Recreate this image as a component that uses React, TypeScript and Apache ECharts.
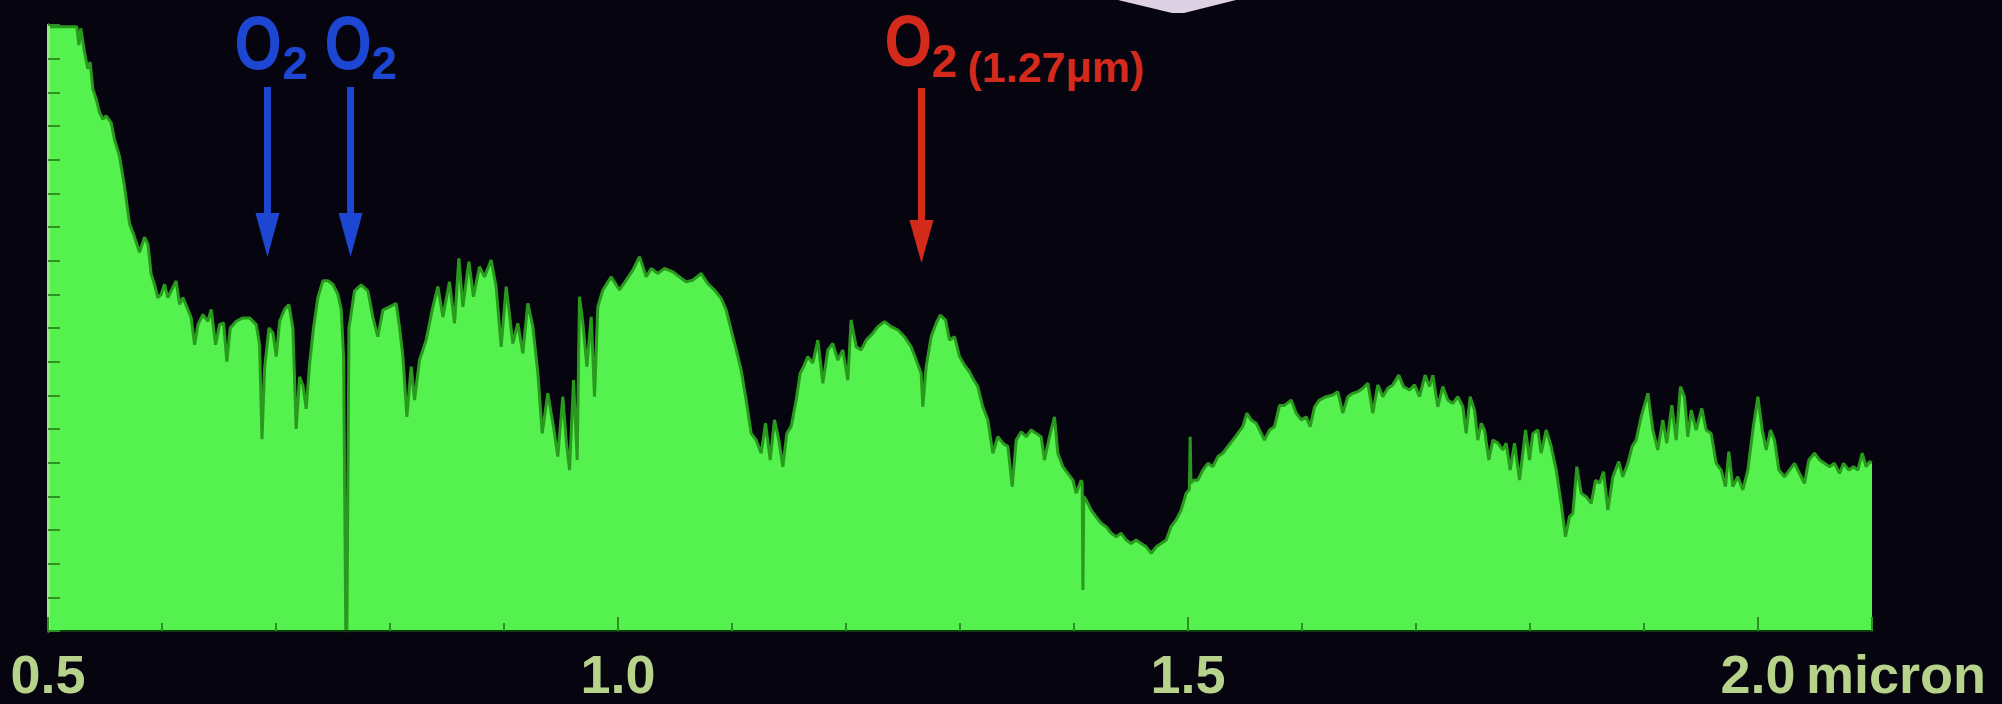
import React, { useEffect, useRef } from "react";
import * as echarts from "echarts";

// Wavelength (micron) and relative flux
const WAVELENGTH = [
  0.5, 0.5101, 0.5218, 0.5253, 0.5271, 0.5288, 0.532, 0.5349, 0.537, 0.5393,
  0.5423, 0.5452, 0.5481, 0.551, 0.5554, 0.5583, 0.5627, 0.5671, 0.5715, 0.5759,
  0.5803, 0.5846, 0.5876, 0.5905, 0.5934, 0.5963, 0.5993, 0.6022, 0.6051, 0.608,
  0.6124, 0.6154, 0.6183, 0.6227, 0.6256, 0.6286, 0.6315, 0.6359, 0.6402, 0.6432,
  0.647, 0.6505, 0.654, 0.6569, 0.6599, 0.6651, 0.671, 0.6768, 0.6827, 0.6856,
  0.6877, 0.69, 0.6938, 0.6973, 0.7002, 0.7032, 0.7075, 0.7113, 0.7148, 0.7177,
  0.7207, 0.7236, 0.7265, 0.7294, 0.7329, 0.7367, 0.7411, 0.7455, 0.7499, 0.7543,
  0.7572, 0.7593, 0.7612, 0.7622, 0.764, 0.7689, 0.7747, 0.7806, 0.7849, 0.7893,
  0.7937, 0.7996, 0.8054, 0.8083, 0.8113, 0.8148, 0.8186, 0.8215, 0.8259, 0.8317,
  0.8376, 0.842, 0.8464, 0.8522, 0.8566, 0.8604, 0.8639, 0.8692, 0.8732, 0.8785,
  0.8829, 0.8887, 0.8931, 0.8975, 0.9019, 0.9078, 0.9121, 0.9165, 0.9209, 0.9253,
  0.9297, 0.9335, 0.9384, 0.9434, 0.9472, 0.9516, 0.9545, 0.9575, 0.961, 0.9642,
  0.9662, 0.9692, 0.9727, 0.9765, 0.9794, 0.9823, 0.9867, 0.994, 1.0013, 1.0072,
  1.013, 1.0189, 1.0247, 1.0291, 1.0349, 1.0408, 1.0481, 1.0539, 1.0598, 1.0656,
  1.073, 1.0788, 1.0846, 1.0905, 1.0949, 1.0993, 1.1037, 1.108, 1.1124, 1.1168,
  1.1212, 1.1256, 1.1294, 1.1335, 1.1373, 1.1411, 1.1446, 1.1481, 1.1519, 1.1563,
  1.1598, 1.1627, 1.1665, 1.1709, 1.1753, 1.1797, 1.1841, 1.1884, 1.1928, 1.1972,
  1.2016, 1.2045, 1.2089, 1.2133, 1.2177, 1.2235, 1.2279, 1.2338, 1.2396, 1.2455,
  1.2513, 1.2572, 1.2616, 1.2659, 1.2674, 1.2703, 1.2747, 1.2791, 1.2826, 1.2873,
  1.2908, 1.2952, 1.2996, 1.3039, 1.3083, 1.3113, 1.3156, 1.32, 1.3244, 1.3288,
  1.3332, 1.3376, 1.342, 1.3458, 1.3493, 1.3537, 1.358, 1.3624, 1.3668, 1.3712,
  1.3741, 1.3785, 1.3829, 1.3858, 1.3902, 1.3946, 1.399, 1.4019, 1.4063, 1.4072,
  1.4078, 1.4086, 1.4107, 1.4151, 1.4194, 1.4238, 1.4282, 1.4326, 1.437, 1.4414,
  1.4458, 1.4502, 1.4545, 1.4589, 1.4633, 1.4677, 1.4721, 1.4765, 1.4809, 1.4852,
  1.4896, 1.494, 1.4984, 1.5012, 1.5019, 1.5026, 1.5048, 1.5086, 1.513, 1.5174,
  1.5218, 1.5262, 1.5305, 1.5349, 1.5393, 1.5437, 1.5481, 1.5516, 1.5554, 1.5598,
  1.5642, 1.5671, 1.5715, 1.5759, 1.5803, 1.5846, 1.5905, 1.5949, 1.5993, 1.6037,
  1.6072, 1.611, 1.6153, 1.6212, 1.627, 1.6314, 1.6358, 1.6402, 1.6446, 1.649,
  1.6534, 1.6578, 1.6621, 1.6665, 1.6709, 1.6753, 1.6797, 1.6849, 1.689, 1.6943,
  1.6987, 1.7031, 1.708, 1.7118, 1.7148, 1.7191, 1.7235, 1.7279, 1.7323, 1.7367,
  1.7411, 1.744, 1.7475, 1.7513, 1.7542, 1.7572, 1.7601, 1.7639, 1.7674, 1.7718,
  1.7762, 1.7791, 1.7826, 1.7864, 1.7908, 1.7961, 1.7996, 1.8025, 1.8069, 1.8098,
  1.8142, 1.8186, 1.823, 1.8273, 1.8311, 1.8346, 1.8376, 1.8411, 1.8449, 1.8493,
  1.8537, 1.8575, 1.861, 1.8645, 1.8683, 1.8727, 1.8779, 1.8814, 1.8858, 1.8896,
  1.8931, 1.8975, 1.9034, 1.9078, 1.9121, 1.9165, 1.92, 1.9244, 1.9282, 1.932,
  1.9355, 1.9384, 1.9414, 1.9457, 1.9507, 1.9545, 1.9589, 1.9633, 1.9677, 1.9715,
  1.9744, 1.9779, 1.9823, 1.9867, 1.9911, 1.9955, 1.9999, 2.0037, 2.0072, 2.011,
  2.0145, 2.0183, 2.0233, 2.0276, 2.032, 2.0364, 2.0408, 2.0446, 2.0496, 2.054,
  2.0583, 2.0627, 2.0671, 2.0715, 2.075, 2.0797, 2.0838, 2.0876, 2.0914, 2.0949,
  2.0978, 2.1,
];

const FLUX = [
  17.95, 17.95, 17.95, 17.95, 17.4, 17.9, 17.2, 16.7, 16.9, 16.1,
  15.8, 15.4, 15.2, 15.3, 15.1, 14.6, 14.1, 13.2, 12.1, 11.7,
  11.25, 11.7, 11.5, 10.6, 10.3, 9.9, 10.0, 10.3, 9.9, 10.1,
  10.4, 9.7, 9.9, 9.55, 9.3, 8.5, 9.1, 9.4, 9.2, 9.55,
  8.5, 9.1, 9.15, 8.0, 9.0, 9.2, 9.3, 9.3, 9.1, 8.5,
  5.7, 7.8, 9.0, 8.85, 8.15, 9.2, 9.55, 9.7, 9.0, 6.0,
  7.55, 7.3, 6.6, 7.9, 9.0, 9.9, 10.4, 10.4, 10.3, 10.0,
  9.55, 8.15, 0, 0, 9.0, 10.1, 10.28, 10.1, 9.33, 8.74,
  9.53, 9.63, 9.73, 9.04, 8.15, 6.36, 7.85, 6.86, 8.05, 8.64,
  9.63, 10.23, 9.33, 10.37, 9.14, 11.07, 9.63, 10.97, 9.93, 10.82,
  10.52, 11.02, 10.23, 8.44, 10.23, 8.54, 9.14, 8.25, 9.73, 9.04,
  7.65, 5.87, 7.06, 6.07, 5.18, 6.96, 5.67, 4.78, 7.45, 5.08,
  9.93, 9.14, 7.85, 9.33, 6.96, 9.63, 10.13, 10.52, 10.13, 10.42,
  10.72, 11.12, 10.52, 10.77, 10.62, 10.77, 10.67, 10.52, 10.37, 10.42,
  10.62, 10.32, 10.13, 9.88, 9.53, 8.94, 8.35, 7.75, 6.86, 5.87,
  5.67, 5.28, 6.17, 5.08, 6.27, 5.67, 4.88, 5.87, 6.07, 6.86,
  7.65, 7.85, 8.15, 7.96, 8.64, 7.36, 8.35, 8.54, 8.05, 8.35,
  7.45, 9.24, 8.44, 8.35, 8.64, 8.84, 9.04, 9.19, 9.04, 8.94,
  8.74, 8.44, 8.05, 7.65, 6.66, 7.85, 8.74, 9.14, 9.38, 9.24,
  8.64, 8.74, 8.15, 7.9, 7.7, 7.5, 7.26, 6.66, 6.27, 5.28,
  5.77, 5.58, 5.48, 4.29, 5.67, 5.92, 5.77, 5.97, 5.87, 5.77,
  5.08, 5.77, 6.36, 5.28, 4.88, 4.68, 4.48, 4.09, 4.48, 4.4,
  1.22, 4.0, 3.89, 3.59, 3.39, 3.2, 3.1, 2.9, 2.8, 2.9,
  2.7, 2.6, 2.7, 2.6, 2.5, 2.31, 2.5, 2.6, 2.7, 3.1,
  3.3, 3.59, 4.09, 4.2, 5.77, 4.4, 4.48, 4.48, 4.78, 4.98,
  4.88, 5.18, 5.28, 5.48, 5.67, 5.87, 6.07, 6.47, 6.27, 6.17,
  5.87, 5.67, 5.97, 6.07, 6.7, 6.7, 6.86, 6.47, 6.27, 6.36,
  6.07, 6.66, 6.86, 6.96, 7.01, 7.11, 6.47, 6.96, 7.06, 7.11,
  7.21, 7.36, 6.47, 7.31, 6.96, 7.21, 7.31, 7.6, 7.26, 7.16,
  7.31, 6.96, 7.6, 7.26, 7.6, 6.66, 7.26, 6.86, 6.76, 6.96,
  6.66, 5.87, 6.96, 6.56, 5.67, 6.17, 5.97, 5.08, 5.67, 5.58,
  5.38, 5.58, 4.78, 5.58, 4.48, 5.97, 5.08, 5.87, 5.97, 5.28,
  5.97, 5.48, 4.78, 3.79, 2.8, 3.39, 3.5, 4.88, 4.09, 3.99,
  3.79, 4.48, 4.39, 4.73, 3.59, 4.58, 5.03, 4.58, 4.98, 5.48,
  5.67, 6.36, 7.06, 5.97, 5.38, 6.27, 5.58, 6.71, 5.67, 7.26,
  6.96, 5.77, 6.56, 5.97, 6.61, 5.97, 5.87, 4.98, 4.78, 4.29,
  5.33, 4.29, 4.58, 4.19, 4.78, 5.97, 6.96, 5.97, 5.38, 5.97,
  5.67, 4.78, 4.58, 4.78, 4.98, 4.68, 4.39, 5.08, 5.28, 5.08,
  4.98, 4.88, 4.98, 4.68, 4.98, 4.78, 4.88, 4.78, 5.28, 4.88,
  5.03, 5.0,
];

const X_MIN = 0.5;
const X_MAX = 2.1;
const X_MINOR_STEP = 0.1;
const X_MAJOR_STEP = 0.5;
const Y_MIN = 0;
const Y_MAX = 18;
const Y_STEP = 1;
const X_UNIT = "micron";

// Absorption-band annotations (wavelength where the arrow points)
const BLUE_BANDS = [0.6925, 0.7654];
const RED_BAND = 1.2662;
const RED_NOTE = "(1.27μm)";

const BG = "#05040f";
const FILL = "#55f24f";
const EDGE = "#2a9a1e";
const LABEL = "#b7d38b";
const BLUE = "#1d46d2";
const RED = "#d42a1c";
const FONT = '"Liberation Sans", Arial, Helvetica, sans-serif';

export default function App() {
  const ref = useRef<HTMLDivElement>(null);

  useEffect(() => {
    const el = ref.current;
    if (!el) return;
    const chart = echarts.init(el, undefined, { renderer: "svg" });
    const data = WAVELENGTH.map((w, i) => [w, FLUX[i]]);
    const isMajor = (v: number) => Math.abs(v / X_MAJOR_STEP - Math.round(v / X_MAJOR_STEP)) < 1e-6;

    chart.setOption({
      animation: false,
      backgroundColor: BG,
      grid: { left: 48, top: 25, width: 1824, height: 606, containLabel: false },
      xAxis: [
        {
          type: "value",
          min: X_MIN,
          max: X_MAX,
          interval: X_MINOR_STEP,
          z: 10,
          axisLine: { show: true, lineStyle: { color: "#0f3a0a", width: 2 } },
          axisTick: { show: true, inside: true, length: 8, lineStyle: { color: "#2e8f22", width: 2 } },
          splitLine: { show: false },
          axisLabel: {
            show: true,
            interval: 0,
            showMinLabel: true,
            showMaxLabel: true,
            margin: 43,
            verticalAlign: "middle",
            color: LABEL,
            fontFamily: FONT,
            fontWeight: "bold",
            fontSize: 54,
            formatter: (v: number) => (isMajor(v) && v < X_MAX - 1e-6 ? v.toFixed(1) : ""),
          },
        },
        {
          type: "value",
          min: X_MIN,
          max: X_MAX,
          interval: X_MAJOR_STEP,
          z: 11,
          position: "bottom",
          axisLine: { show: false },
          axisTick: { show: true, inside: true, length: 14, lineStyle: { color: "#2e8f22", width: 2 } },
          axisLabel: { show: false },
          splitLine: { show: false },
        },
      ],
      yAxis: {
        type: "value",
        min: Y_MIN,
        max: Y_MAX,
        interval: Y_STEP,
        z: 10,
        axisLine: { show: true, lineStyle: { color: "#9fe486", width: 3 } },
        axisTick: { show: true, inside: true, length: 12, lineStyle: { color: "#2e8f22", width: 2 } },
        axisLabel: { show: false },
        splitLine: { show: false },
      },
      series: [
        {
          type: "line",
          xAxisIndex: 0,
          data,
          showSymbol: false,
          symbol: "none",
          smooth: false,
          lineStyle: { color: EDGE, width: 3 },
          areaStyle: { color: FILL, opacity: 1 },
          z: 2,
        },
      ],
    });

    const px = (w: number) => chart.convertToPixel({ xAxisIndex: 0 }, w) as number;
    const b1 = px(BLUE_BANDS[0]);
    const b2 = px(BLUE_BANDS[1]);
    const r = px(RED_BAND);
    const two = px(2.0);

    const arrow = (x: number, yTop: number, yTip: number, headH: number, color: string) => [
      {
        type: "line",
        shape: { x1: x, y1: yTop, x2: x, y2: yTip - headH + 2 },
        style: { stroke: color, lineWidth: 7 },
        z: 100,
      },
      {
        type: "polygon",
        shape: { points: [[x - 12, yTip - headH], [x + 12, yTip - headH], [x, yTip]] },
        style: { fill: color },
        z: 100,
      },
    ];

    const txt = (x: number, y: number, text: string, size: number, color: string, sx = 1) => ({
      type: "text",
      x,
      y,
      scaleX: sx,
      z: 100,
      style: {
        text,
        fill: color,
        font: `bold ${size}px ${FONT}`,
        textAlign: "left",
        textVerticalAlign: "middle",
      },
    });

    chart.setOption({
      graphic: [
        // light shape at the top edge
        {
          type: "polygon",
          shape: { points: [[1118, 0], [1236, 0], [1184, 13], [1172, 13]] },
          style: { fill: "#dcd2e4" },
          z: 50,
        },
        ...arrow(b1, 87, 257, 44, BLUE),
        ...arrow(b2, 87, 257, 44, BLUE),
        ...arrow(r, 88, 263, 43, RED),
        txt(b1 - 33, 43, "O", 76, BLUE, 0.8),
        txt(b1 + 15, 63, "2", 46, BLUE),
        txt(b2 - 26, 43, "O", 76, BLUE, 0.8),
        txt(b2 + 21, 63, "2", 46, BLUE),
        txt(r - 37, 41, "O", 72, RED, 0.85),
        txt(r + 10, 61, "2", 46, RED),
        txt(r + 46, 67, RED_NOTE, 43, RED),
        {
          type: "text",
          x: two + 48,
          y: 674,
          z: 100,
          style: {
            text: X_UNIT,
            fill: LABEL,
            font: `bold 54px ${FONT}`,
            textAlign: "left",
            textVerticalAlign: "middle",
          },
        },
      ],
    });

    return () => chart.dispose();
  }, []);

  return (
    <div
      ref={ref}
      style={{ position: "fixed", left: 0, top: 0, width: 2002, height: 704, background: BG }}
    />
  );
}
